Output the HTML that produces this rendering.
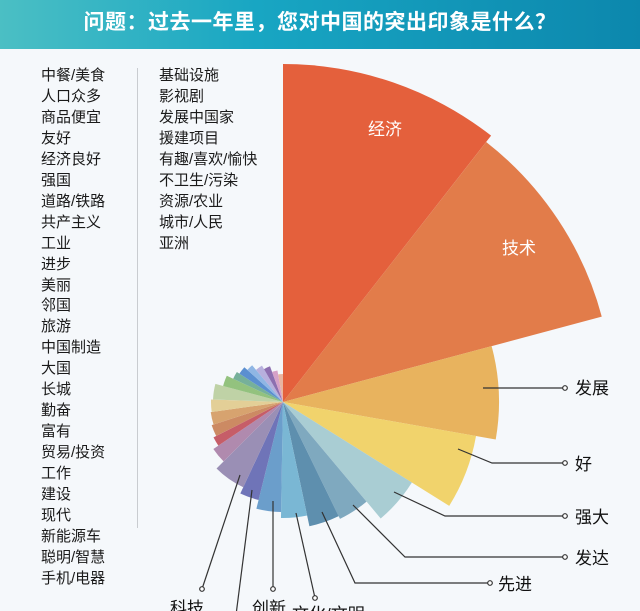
<!DOCTYPE html>
<html><head><meta charset="utf-8">
<style>
html,body{margin:0;padding:0;}
body{width:640px;height:611px;overflow:hidden;background:#f5f8fb;font-family:"Liberation Sans","Noto Sans CJK SC",sans-serif;position:relative;}
#hdr{position:absolute;left:0;top:0;width:640px;height:49px;background:linear-gradient(90deg,#4bbfc4 0%,#18a6c3 40%,#0c87ad 100%);color:#fff;font-weight:bold;font-size:21px;text-align:center;line-height:46px;letter-spacing:0.5px;}
.col{position:absolute;top:66px;font-size:15px;line-height:20.96px;color:#1a1a1a;}
#divider{position:absolute;left:137px;top:68px;width:1px;height:460px;background:#c9ccd0;}
svg{position:absolute;left:0;top:0;}
</style></head><body>
<div id="hdr">问题：过去一年里，您对中国的突出印象是什么？</div>
<div class="col" style="left:41px">中餐/美食<br>人口众多<br>商品便宜<br>友好<br>经济良好<br>强国<br>道路/铁路<br>共产主义<br>工业<br>进步<br>美丽<br>邻国<br>旅游<br>中国制造<br>大国<br>长城<br>勤奋<br>富有<br>贸易/投资<br>工作<br>建设<br>现代<br>新能源车<br>聪明/智慧<br>手机/电器</div>
<div id="divider"></div>
<div class="col" style="left:159px">基础设施<br>影视剧<br>发展中国家<br>援建项目<br>有趣/喜欢/愉快<br>不卫生/污染<br>资源/农业<br>城市/人民<br>亚洲</div>
<svg id="chart" width="640" height="611"></svg>
<script>
const categories=["经济","技术","发展","好","强大","发达","先进","文化/文明","创新","其他1","科技","其他2","其他3","其他4","其他5","其他6","其他7","其他8","其他9","其他10","其他11","其他12","其他13","其他14","其他15"];
const shares=[38,37,25,22,18,14,14,13,13,11,20,11,7,9,10,10,13,10,8,9,8,10,10,10,10];
const values=[338,330,216,196,152,130,127,116,110,101,94,84,78,75,73,72,70,62,55,52,48,42,38,32,28];
const colors=["#e4603c","#e27c4a","#e8b35e","#f1d36c","#a9cdd3","#7fa9bf","#5e8fae","#7ab7d4","#6b9ecb","#6f74b8","#9a8fb5","#b08aae","#c65d68","#cc8a63","#d7a36f","#e3cf97","#bfd2a6","#93c27e","#76b09a","#5b8fd0","#8fb6e4","#b7b0dd","#8d6fb0","#d6a1c8","#e8b5a0"];
const NS="http://www.w3.org/2000/svg";
const svg=document.getElementById('chart');
const cx=283,cy=402;
const total=shares.reduce((a,b)=>a+b,0);
function angleScale(s){return s/total*360;}
function pt(a,r){const t=a*Math.PI/180;return [cx+r*Math.sin(t),cy-r*Math.cos(t)];}
let acc=0;
categories.forEach((c,i)=>{
  const a0=angleScale(acc);acc+=shares[i];const a1=angleScale(acc);
  const r=values[i];const p0=pt(a0,r),p1=pt(a1,r);
  const large=(a1-a0)>180?1:0;
  const p=document.createElementNS(NS,'path');
  p.setAttribute('d',`M${cx},${cy}L${p0[0]},${p0[1]}A${r},${r} 0 ${large} 1 ${p1[0]},${p1[1]}Z`);
  p.setAttribute('fill',colors[i]);
  
  
  svg.appendChild(p);
});
function txt(x,y,s,fill,size,name){
  const t=document.createElementNS(NS,'text');
  t.setAttribute('x',x);t.setAttribute('y',y);t.setAttribute('fill',fill);t.setAttribute('font-size',size);
  t.setAttribute('font-family','"Liberation Sans","Noto Sans CJK SC",sans-serif');
  t.textContent=s;
  
  
  svg.appendChild(t);
}
txt(368,135,"经济","#fff",17,"label-jingji");
txt(502,254,"技术","#fff",17,"label-jishu");
const leaders=[
 ["发展",[[483,388],[565,388]],[575,394]],
 ["好",[[458,449],[492,463],[565,463]],[575,470]],
 ["强大",[[394,492],[445,516],[565,516]],[575,523]],
 ["发达",[[353,505],[405,557],[565,557]],[575,564]],
 ["先进",[[322,512],[355,583],[490,583]],[498,590]],
 ["文化/文明",[[296,513],[315,598]],[292,620]],
 ["创新",[[273,501],[273,589]],[252,614]],
 ["科技",[[240,475],[202,589]],[170,614]],
 ["",[[252,490],[236,615]],[0,0]]
];
leaders.forEach((l,i)=>{
  const pl=document.createElementNS(NS,'polyline');
  pl.setAttribute('points',l[1].map(p=>p.join(',')).join(' '));
  pl.setAttribute('fill','none');pl.setAttribute('stroke','#333');pl.setAttribute('stroke-width','1.2');
  
  
  svg.appendChild(pl);
  if(l[0]){
    const e=l[1][l[1].length-1];
    const c=document.createElementNS(NS,'circle');
    c.setAttribute('cx',e[0]);c.setAttribute('cy',e[1]);c.setAttribute('r',2.3);
    c.setAttribute('fill','#fff');c.setAttribute('stroke','#333');c.setAttribute('stroke-width','1.2');
    
    
    svg.appendChild(c);
    txt(l[2][0],l[2][1],l[0],"#111",17,"callout-label-"+i);
  }
});
</script>
</body></html>
